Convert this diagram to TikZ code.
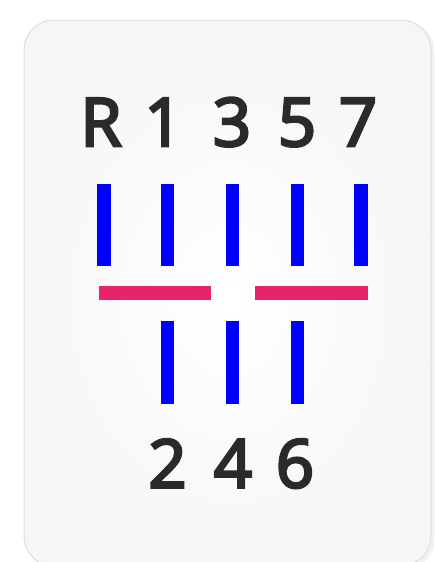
\documentclass[tikz,border=0pt]{standalone}
\usepackage{fontspec}
\setmainfont{Open Sans}
\newfontfamily\gearfont{Open Sans}[FakeBold=4]
\definecolor{ink}{HTML}{2A2A2A}
\definecolor{gearblue}{HTML}{0000FF}
\definecolor{gearred}{HTML}{E5246B}
\definecolor{cardedge}{HTML}{DDDDDD}
\definecolor{cardout}{HTML}{F6F6F6}
\definecolor{cardin}{HTML}{FFFFFF}
\begin{document}
\begin{tikzpicture}[x=1pt,y=-1pt,
  lbl/.style={text=ink,font=\gearfont\fontsize{66.8}{80}\selectfont,anchor=base,inner sep=0pt},
  vbar/.style={fill=gearblue},
  hbar/.style={fill=gearred}]
\useasboundingbox (0,0) rectangle (434,562);
\begin{scope}
\clip (0,0) rectangle (434,562);
% shadow
\fill[black!10,rounded corners=30pt] (27,23) rectangle (434,568);
\fill[black!5,rounded corners=30pt] (26,22) rectangle (435,569);
% card
\begin{scope}
\clip[rounded corners=30pt] (24,20) rectangle (431,566);
\fill[cardout] (0,0) rectangle (434,562);
\shade[inner color=cardin,outer color=cardout] (229,300) ellipse (215 and 275);
\end{scope}
\draw[cardedge,line width=1pt,rounded corners=30pt] (24,20) rectangle (431,566);
\end{scope}
% top labels
\node[lbl] (R) at (101,146) {R};
\node[lbl] (g1) at (163.5,146) {1};
\node[lbl] (g3) at (232,146) {3};
\node[lbl] (g5) at (297,146) {5};
\node[lbl] (g7) at (358,146) {7};
% upper bars
\fill[vbar] (97,183.5) rectangle (110.5,266);
\fill[vbar] (160.5,183.5) rectangle (174,266);
\fill[vbar] (225.5,183.5) rectangle (239,266);
\fill[vbar] (290.5,183.5) rectangle (304,266);
\fill[vbar] (353.5,183.5) rectangle (367.5,266);
% neutral bars
\fill[hbar] (99,286) rectangle (211,300);
\fill[hbar] (255,286) rectangle (368,300);
% lower bars
\fill[vbar] (160.5,321) rectangle (174,403.5);
\fill[vbar] (225.5,321) rectangle (239,403.5);
\fill[vbar] (290.5,321) rectangle (304,403.5);
% bottom labels
\node[lbl] (g2) at (167.5,487.5) {2};
\node[lbl] (g4) at (233,487.5) {4};
\node[lbl] (g6) at (295,487.5) {6};
\end{tikzpicture}
\end{document}
